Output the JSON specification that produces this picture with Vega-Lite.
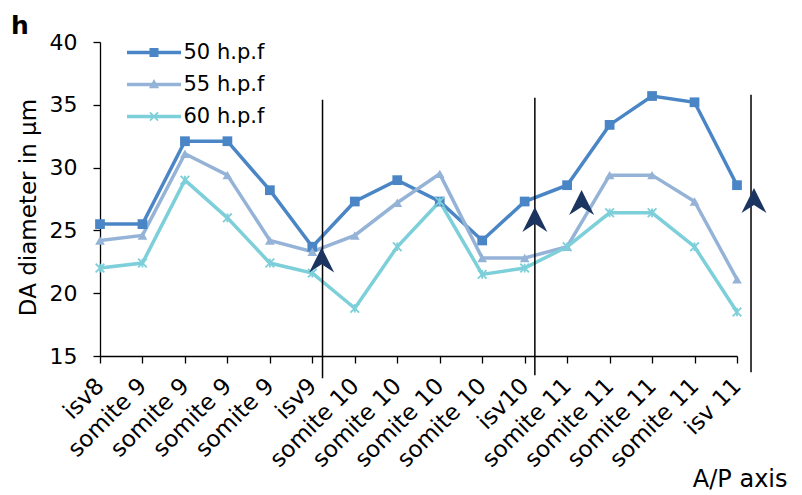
{
  "$schema": "https://vega.github.io/schema/vega-lite/v6.json",
  "autosize": "none",
  "width": 637,
  "height": 314,
  "padding": {"left": 100, "top": 42, "right": 65, "bottom": 139},
  "background": "white",
  "config": {
    "font": "DejaVu Sans",
    "view": {"stroke": null},
    "axis": {
      "grid": false,
      "domainColor": "black",
      "tickColor": "black",
      "labelColor": "black",
      "titleColor": "black",
      "labelFont": "DejaVu Sans",
      "titleFont": "DejaVu Sans",
      "titleFontWeight": "normal",
      "domainWidth": 1.3,
      "tickWidth": 1.3,
      "tickSize": 7
    }
  },
  "title": {
    "text": "h",
    "anchor": "start",
    "frame": "group",
    "font": "DejaVu Sans",
    "fontSize": 25,
    "fontWeight": "bold",
    "color": "black",
    "dx": -89,
    "dy": 37,
    "offset": 9,
    "baseline": "alphabetic"
  },
  "resolve": {"legend": {"color": "independent"}},
  "datasets": {
    "main": [
      {"i": 0, "series": "50 h.p.f", "v": 25.5},
      {"i": 1, "series": "50 h.p.f", "v": 25.5},
      {"i": 2, "series": "50 h.p.f", "v": 32.1},
      {"i": 3, "series": "50 h.p.f", "v": 32.1},
      {"i": 4, "series": "50 h.p.f", "v": 28.2},
      {"i": 5, "series": "50 h.p.f", "v": 23.7},
      {"i": 6, "series": "50 h.p.f", "v": 27.3},
      {"i": 7, "series": "50 h.p.f", "v": 29.0},
      {"i": 8, "series": "50 h.p.f", "v": 27.3},
      {"i": 9, "series": "50 h.p.f", "v": 24.2},
      {"i": 10, "series": "50 h.p.f", "v": 27.3},
      {"i": 11, "series": "50 h.p.f", "v": 28.6},
      {"i": 12, "series": "50 h.p.f", "v": 33.4},
      {"i": 13, "series": "50 h.p.f", "v": 35.7},
      {"i": 14, "series": "50 h.p.f", "v": 35.2},
      {"i": 15, "series": "50 h.p.f", "v": 28.6},
      {"i": 0, "series": "55 h.p.f", "v": 24.2},
      {"i": 1, "series": "55 h.p.f", "v": 24.6},
      {"i": 2, "series": "55 h.p.f", "v": 31.1},
      {"i": 3, "series": "55 h.p.f", "v": 29.4},
      {"i": 4, "series": "55 h.p.f", "v": 24.2},
      {"i": 5, "series": "55 h.p.f", "v": 23.3},
      {"i": 6, "series": "55 h.p.f", "v": 24.6},
      {"i": 7, "series": "55 h.p.f", "v": 27.2},
      {"i": 8, "series": "55 h.p.f", "v": 29.5},
      {"i": 9, "series": "55 h.p.f", "v": 22.8},
      {"i": 10, "series": "55 h.p.f", "v": 22.8},
      {"i": 11, "series": "55 h.p.f", "v": 23.7},
      {"i": 12, "series": "55 h.p.f", "v": 29.4},
      {"i": 13, "series": "55 h.p.f", "v": 29.4},
      {"i": 14, "series": "55 h.p.f", "v": 27.3},
      {"i": 15, "series": "55 h.p.f", "v": 21.1},
      {"i": 0, "series": "60 h.p.f", "v": 22.0},
      {"i": 1, "series": "60 h.p.f", "v": 22.4},
      {"i": 2, "series": "60 h.p.f", "v": 29.0},
      {"i": 3, "series": "60 h.p.f", "v": 26.0},
      {"i": 4, "series": "60 h.p.f", "v": 22.4},
      {"i": 5, "series": "60 h.p.f", "v": 21.6},
      {"i": 6, "series": "60 h.p.f", "v": 18.8},
      {"i": 7, "series": "60 h.p.f", "v": 23.7},
      {"i": 8, "series": "60 h.p.f", "v": 27.3},
      {"i": 9, "series": "60 h.p.f", "v": 21.5},
      {"i": 10, "series": "60 h.p.f", "v": 22.0},
      {"i": 11, "series": "60 h.p.f", "v": 23.7},
      {"i": 12, "series": "60 h.p.f", "v": 26.4},
      {"i": 13, "series": "60 h.p.f", "v": 26.4},
      {"i": 14, "series": "60 h.p.f", "v": 23.7},
      {"i": 15, "series": "60 h.p.f", "v": 18.5}
    ],
    "dividers": [
      {"i": 5.24, "top": 35.41, "bottom": 13.23},
      {"i": 10.24, "top": 35.57, "bottom": 13.47},
      {"i": 15.33, "top": 35.81, "bottom": 13.7}
    ],
    "arrows": [
      {"i": 5.22, "v": 22.65},
      {"i": 10.24, "v": 25.87},
      {"i": 11.34, "v": 27.22},
      {"i": 15.4, "v": 27.38}
    ]
  },
  "layer": [
    {
      "data": {"name": "main"},
      "mark": {"type": "line", "strokeWidth": 3.5},
      "encoding": {
        "x": {
          "field": "i",
          "type": "quantitative",
          "scale": {"domain": [0, 15], "nice": false, "zero": false},
          "axis": {
            "values": [0, 1, 2, 3, 4, 5, 6, 7, 8, 9, 10, 11, 12, 13, 14, 15],
            "labelExpr": "['isv8','somite 9','somite 9','somite 9','somite 9','isv9','somite 10','somite 10','somite 10','somite 10','isv10','somite 11','somite 11','somite 11','somite 11','isv 11'][datum.value]",
            "labelAngle": -45,
            "labelAlign": "right",
            "labelBaseline": "middle",
            "labelFontSize": 23,
            "labelPadding": 19,
            "labelOverlap": false,
            "labelBound": false,
            "title": "A/P axis",
            "titleFontSize": 24,
            "titleAngle": 0,
            "titleX": 687,
            "titleY": 130,
            "titleAlign": "right",
            "titleBaseline": "alphabetic"
          }
        },
        "y": {
          "field": "v",
          "type": "quantitative",
          "scale": {"domain": [15, 40], "nice": false, "zero": false},
          "axis": {
            "values": [15, 20, 25, 30, 35, 40],
            "labelFontSize": 22,
            "labelPadding": 16,
            "title": "DA diameter  in µm",
            "titleFontSize": 23,
            "titlePadding": 9,
            "titleY": 165
          }
        },
        "color": {
          "field": "series",
          "type": "nominal",
          "scale": {"domain": ["50 h.p.f", "55 h.p.f", "60 h.p.f"], "range": ["#4a86c6", "#95b3d7", "#7dcfd9"]},
          "legend": {
            "title": null,
            "orient": "none",
            "legendX": 43.5,
            "legendY": 0,
            "padding": 0,
            "labelFont": "DejaVu Sans",
            "labelFontSize": 21,
            "labelColor": "black",
            "labelOffset": 19,
            "symbolSize": 289,
            "symbolStrokeWidth": 0,
            "rowPadding": 10,
            "encode": {
              "symbols": {
                "update": {
                  "shape": {"signal": "datum.value === '50 h.p.f' ? 'M-3.18,-0.2H3.18V0.2H-3.18Z M-0.53,-0.53H0.53V0.53H-0.53Z' : datum.value === '55 h.p.f' ? 'M-3.18,-0.2H3.18V0.2H-3.18Z M0,-0.65L0.6,0.45H-0.6Z' : 'M-3.18,-0.2H3.18V0.2H-3.18Z M-0.55,-0.41L-0.41,-0.55L0,-0.14L0.41,-0.55L0.55,-0.41L0.14,0L0.55,0.41L0.41,0.55L0,0.14L-0.41,0.55L-0.55,0.41L-0.14,0Z'"},
                  "fill": {"scale": "color", "field": "value"},
                  "stroke": {"value": "transparent"},
                  "strokeWidth": {"value": 0},
                  "opacity": {"value": 1}
                }
              }
            }
          }
        }
      }
    },
    {
      "data": {"name": "main"},
      "transform": [{"filter": "datum.series === '50 h.p.f'"}],
      "mark": {"type": "point", "filled": true, "opacity": 1, "shape": "square", "size": 95},
      "encoding": {
        "x": {"field": "i", "type": "quantitative"},
        "y": {"field": "v", "type": "quantitative"},
        "color": {"field": "series", "type": "nominal", "legend": null}
      }
    },
    {
      "data": {"name": "main"},
      "transform": [{"filter": "datum.series === '55 h.p.f'"}],
      "mark": {"type": "point", "filled": true, "opacity": 1, "shape": "triangle-up", "size": 95},
      "encoding": {
        "x": {"field": "i", "type": "quantitative"},
        "y": {"field": "v", "type": "quantitative"},
        "color": {"field": "series", "type": "nominal", "legend": null}
      }
    },
    {
      "data": {"name": "main"},
      "transform": [{"filter": "datum.series === '60 h.p.f'"}],
      "mark": {"type": "point", "filled": false, "opacity": 1, "shape": "M-1,-1L1,1M1,-1L-1,1M0,-1L0,1", "size": 75, "strokeWidth": 1.8},
      "encoding": {
        "x": {"field": "i", "type": "quantitative"},
        "y": {"field": "v", "type": "quantitative"},
        "color": {"field": "series", "type": "nominal", "legend": null}
      }
    },
    {
      "data": {"name": "dividers"},
      "mark": {"type": "rule", "color": "black", "strokeWidth": 1.5},
      "encoding": {
        "x": {"field": "i", "type": "quantitative"},
        "y": {"field": "top", "type": "quantitative"},
        "y2": {"field": "bottom"}
      }
    },
    {
      "data": {"name": "arrows"},
      "mark": {"type": "point", "filled": true, "opacity": 1, "color": "#1b3560", "shape": "M0,-1L1,1L0,0.35L-1,1Z", "size": 625},
      "encoding": {
        "x": {"field": "i", "type": "quantitative"},
        "y": {"field": "v", "type": "quantitative"}
      }
    }
  ]
}
